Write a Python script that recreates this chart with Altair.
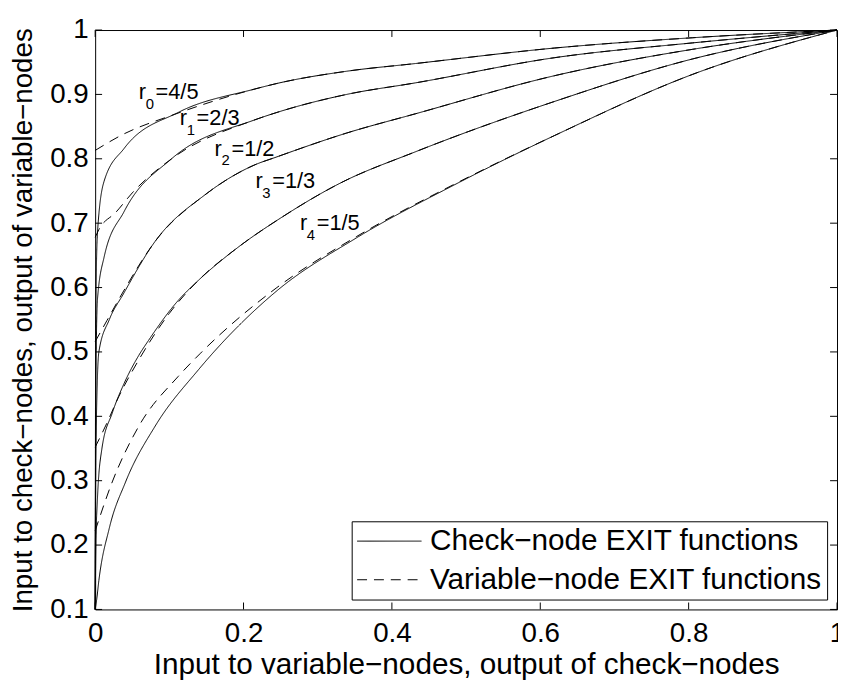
import altair as alt
import pandas as pd

# ---- data ----
check_x = [
    [0, 0.0008, 0.003, 0.012, 0.039, 0.112, 0.214, 0.245, 0.339, 0.432, 0.619, 0.805, 1.0],
    [0, 0.001, 0.003, 0.012, 0.039, 0.103, 0.214, 0.245, 0.339, 0.432, 0.619, 0.805, 1.0],
    [0, 0.001, 0.005, 0.019, 0.038, 0.081, 0.148, 0.214, 0.245, 0.339, 0.432, 0.619, 0.805, 1.0],
    [0, 0.001, 0.003, 0.009, 0.023, 0.039, 0.059, 0.072, 0.112, 0.139, 0.192, 0.25, 0.33, 0.432, 0.619, 0.805, 1.0],
    [0, 0.002, 0.005, 0.019, 0.041, 0.081, 0.139, 0.245, 0.352, 0.485, 0.619, 0.805, 1.0],
]
check_y = [
    [0.1, 0.55, 0.683, 0.765, 0.816, 0.872, 0.908, 0.917, 0.936, 0.948, 0.972, 0.988, 1.0],
    [0.1, 0.45, 0.58, 0.647, 0.718, 0.800, 0.860, 0.872, 0.900, 0.918, 0.957, 0.980, 1.0],
    [0.1, 0.35, 0.50, 0.55, 0.59, 0.672, 0.744, 0.790, 0.803, 0.840, 0.870, 0.929, 0.970, 1.0],
    [0.1, 0.2, 0.27, 0.349, 0.405, 0.451, 0.495, 0.518, 0.58, 0.611, 0.662, 0.708, 0.762, 0.811, 0.889, 0.955, 1.0],
    [0.1, 0.115, 0.145, 0.226, 0.298, 0.385, 0.472, 0.595, 0.677, 0.760, 0.836, 0.931, 1.0],
]
var_x = [
    [0, 0.036, 0.107, 0.214, 0.245, 0.339, 0.432, 0.619, 0.805, 1.0],
    [0, 0.005, 0.028, 0.05, 0.103, 0.214, 0.245, 0.339, 0.432, 0.619, 0.805, 1.0],
    [0, 0.016, 0.036, 0.081, 0.148, 0.214, 0.245, 0.339, 0.432, 0.619, 0.805, 1.0],
    [0, 0.014, 0.032, 0.06, 0.1, 0.139, 0.192, 0.25, 0.33, 0.432, 0.619, 0.805, 1.0],
    [0, 0.023, 0.059, 0.112, 0.142, 0.245, 0.352, 0.485, 0.619, 0.805, 1.0],
]
var_y = [
    [0.813, 0.837, 0.869, 0.908, 0.917, 0.936, 0.948, 0.972, 0.988, 1.0],
    [0.678, 0.69, 0.717, 0.747, 0.800, 0.860, 0.872, 0.900, 0.918, 0.957, 0.980, 1.0],
    [0.516, 0.549, 0.59, 0.672, 0.744, 0.790, 0.803, 0.840, 0.870, 0.929, 0.970, 1.0],
    [0.352, 0.385, 0.431, 0.49, 0.56, 0.611, 0.662, 0.708, 0.762, 0.811, 0.889, 0.955, 1.0],
    [0.222, 0.298, 0.385, 0.462, 0.498, 0.600, 0.679, 0.761, 0.836, 0.931, 1.0],
]

kinds = ["Check\u2212node EXIT functions", "Variable\u2212node EXIT functions"]

label_x = [0.0587, 0.114, 0.161, 0.216, 0.276]
label_y = [0.893, 0.853, 0.805, 0.754, 0.690]
label_sub = ["0", "1", "2", "3", "4"]
label_rest = ["=4/5", "=2/3", "=1/2", "=1/3", "=1/5"]

x_ticks = [0, 0.2, 0.4, 0.6, 0.8, 1]
y_ticks = [0.1, 0.2, 0.3, 0.4, 0.5, 0.6, 0.7, 0.8, 0.9, 1]

FONT = "Liberation Sans"
W, H = 749, 585
TICK = 7

# ---- tables ----
rows = []
for i in range(5):
    for j, (xv, yv) in enumerate(zip(check_x[i], check_y[i])):
        rows.append({"x": xv, "y": yv, "series": f"c{i}", "kind": kinds[0], "o": j})
    for j, (xv, yv) in enumerate(zip(var_x[i], var_y[i])):
        rows.append({"x": xv, "y": yv, "series": f"v{i}", "kind": kinds[1], "o": j})
curves = pd.DataFrame(rows)

labels = pd.DataFrame({"x": label_x, "y": label_y, "sub": label_sub, "rest": label_rest})
xt = pd.DataFrame({"x": x_ticks})
yt = pd.DataFrame({"y": y_ticks})

xscale = alt.Scale(domain=[0, 1], nice=False, zero=False)
yscale = alt.Scale(domain=[0.1, 1], nice=False, zero=False)

xaxis = alt.Axis(values=x_ticks, format="~g", title="Input to variable\u2212nodes, output of check\u2212nodes",
                 ticks=False, domain=False, grid=False, labelPadding=10,
                 titleBaseline="alphabetic", titleY=65,
                 labelFontSize=28, titleFontSize=30, labelFlush=False)
yaxis = alt.Axis(values=y_ticks, format="~g", title="Input to check\u2212nodes, output of variable\u2212nodes",
                 ticks=False, domain=False, grid=False, labelPadding=7, titlePadding=12,
                 labelFontSize=28, titleFontSize=28, labelFlush=False)

lines = alt.Chart(curves).mark_line(color="black", strokeWidth=1, interpolate="monotone").encode(
    x=alt.X("x:Q", scale=xscale, axis=xaxis),
    y=alt.Y("y:Q", scale=yscale, axis=yaxis),
    detail="series:N",
    order="o:Q",
    strokeDash=alt.StrokeDash(
        "kind:N",
        scale=alt.Scale(domain=kinds, range=[[1, 0], [10, 7]]),
        legend=alt.Legend(title=None, orient="bottom-right", offset=10, fillColor="white",
                          strokeColor="black", padding=5, labelFontSize=30, labelFont=FONT,
                          symbolType="stroke", symbolSize=4225, symbolStrokeWidth=1,
                          symbolStrokeColor="black", rowPadding=9, labelLimit=0,
                          labelOffset=8, clipHeight=30, labelColor="black"),
    ),
)

lab_r = alt.Chart(labels).mark_text(font=FONT, fontSize=22, align="left", baseline="alphabetic",
                                    color="black").encode(
    x=alt.X("x:Q", scale=xscale), y=alt.Y("y:Q", scale=yscale), text=alt.value("r"))
lab_s = alt.Chart(labels).mark_text(font=FONT, fontSize=15, align="left", baseline="alphabetic",
                                    color="black", dx=7, dy=10).encode(
    x=alt.X("x:Q", scale=xscale), y=alt.Y("y:Q", scale=yscale), text="sub:N")
lab_t = alt.Chart(labels).mark_text(font=FONT, fontSize=22, align="left", baseline="alphabetic",
                                    color="black", dx=17).encode(
    x=alt.X("x:Q", scale=xscale), y=alt.Y("y:Q", scale=yscale), text="rest:N")

tb = alt.Chart(xt).mark_rule(color="black", strokeWidth=1).encode(
    x=alt.X("x:Q", scale=xscale), y=alt.value(H), y2=alt.value(H - TICK))
tt = alt.Chart(xt).mark_rule(color="black", strokeWidth=1).encode(
    x=alt.X("x:Q", scale=xscale), y=alt.value(0), y2=alt.value(TICK))
tl = alt.Chart(yt).mark_rule(color="black", strokeWidth=1).encode(
    y=alt.Y("y:Q", scale=yscale), x=alt.value(0), x2=alt.value(TICK))
tr = alt.Chart(yt).mark_rule(color="black", strokeWidth=1).encode(
    y=alt.Y("y:Q", scale=yscale), x=alt.value(W), x2=alt.value(W - TICK))

chart = alt.layer(tb, tt, tl, tr, lines, lab_r, lab_s, lab_t).properties(
    width=W, height=H,
    autosize=alt.AutoSizeParams(type="none"),
    padding={"left": 88, "top": 19, "right": 1, "bottom": 70},
    background="white",
).configure_view(stroke="black", strokeWidth=1).configure_axis(
    labelFont=FONT, titleFont=FONT, labelColor="black", titleColor="black", titleFontWeight="normal"
)

chart.save("out.html", embed_options={"renderer": "svg", "actions": False})
